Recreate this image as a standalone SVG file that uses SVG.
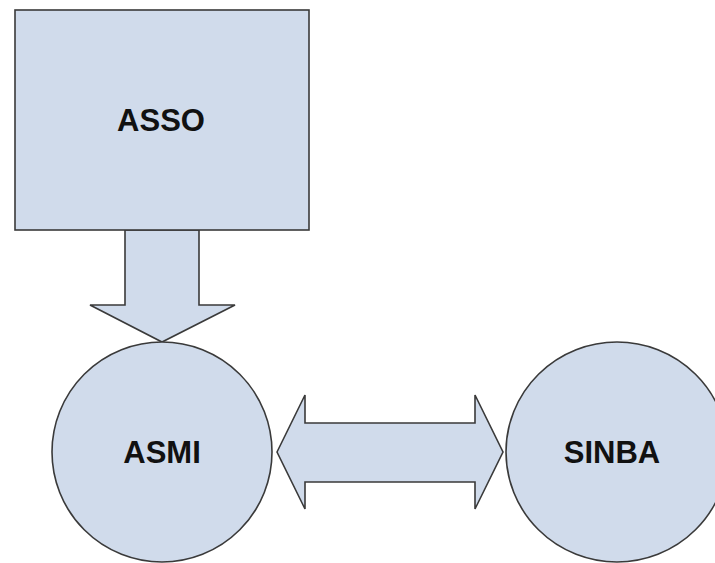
<svg xmlns="http://www.w3.org/2000/svg" width="715" height="563" viewBox="0 0 715 563">
<style>
.shape{fill:#d0dbeb;stroke:#3a3a3a;stroke-width:1.6}
.lbl{font-family:"Liberation Sans",Arial,sans-serif;font-weight:bold;font-size:31px;fill:#111;text-anchor:middle;dominant-baseline:central}
</style>
<rect width="715" height="563" fill="#ffffff"/>
<g id="connectors">
<polygon class="shape" points="125,230 199,230 199,305 235,305 162,342 90,305 125,305"/>
<polygon class="shape" points="277,452 305,395 305,423 475,423 475,395 503,452 475,509 475,482 305,482 305,509"/>
</g>
<g id="asso">
<rect class="shape" x="15" y="10" width="294" height="220"/>
<text class="lbl" x="161" y="120">ASSO</text>
</g>
<g id="asmi">
<circle class="shape" cx="162" cy="452" r="110"/>
<text class="lbl" x="162" y="452">ASMI</text>
</g>
<g id="sinba">
<ellipse class="shape" cx="617" cy="452" rx="111" ry="110"/>
<text class="lbl" x="612" y="452">SINBA</text>
</g>
</svg>
